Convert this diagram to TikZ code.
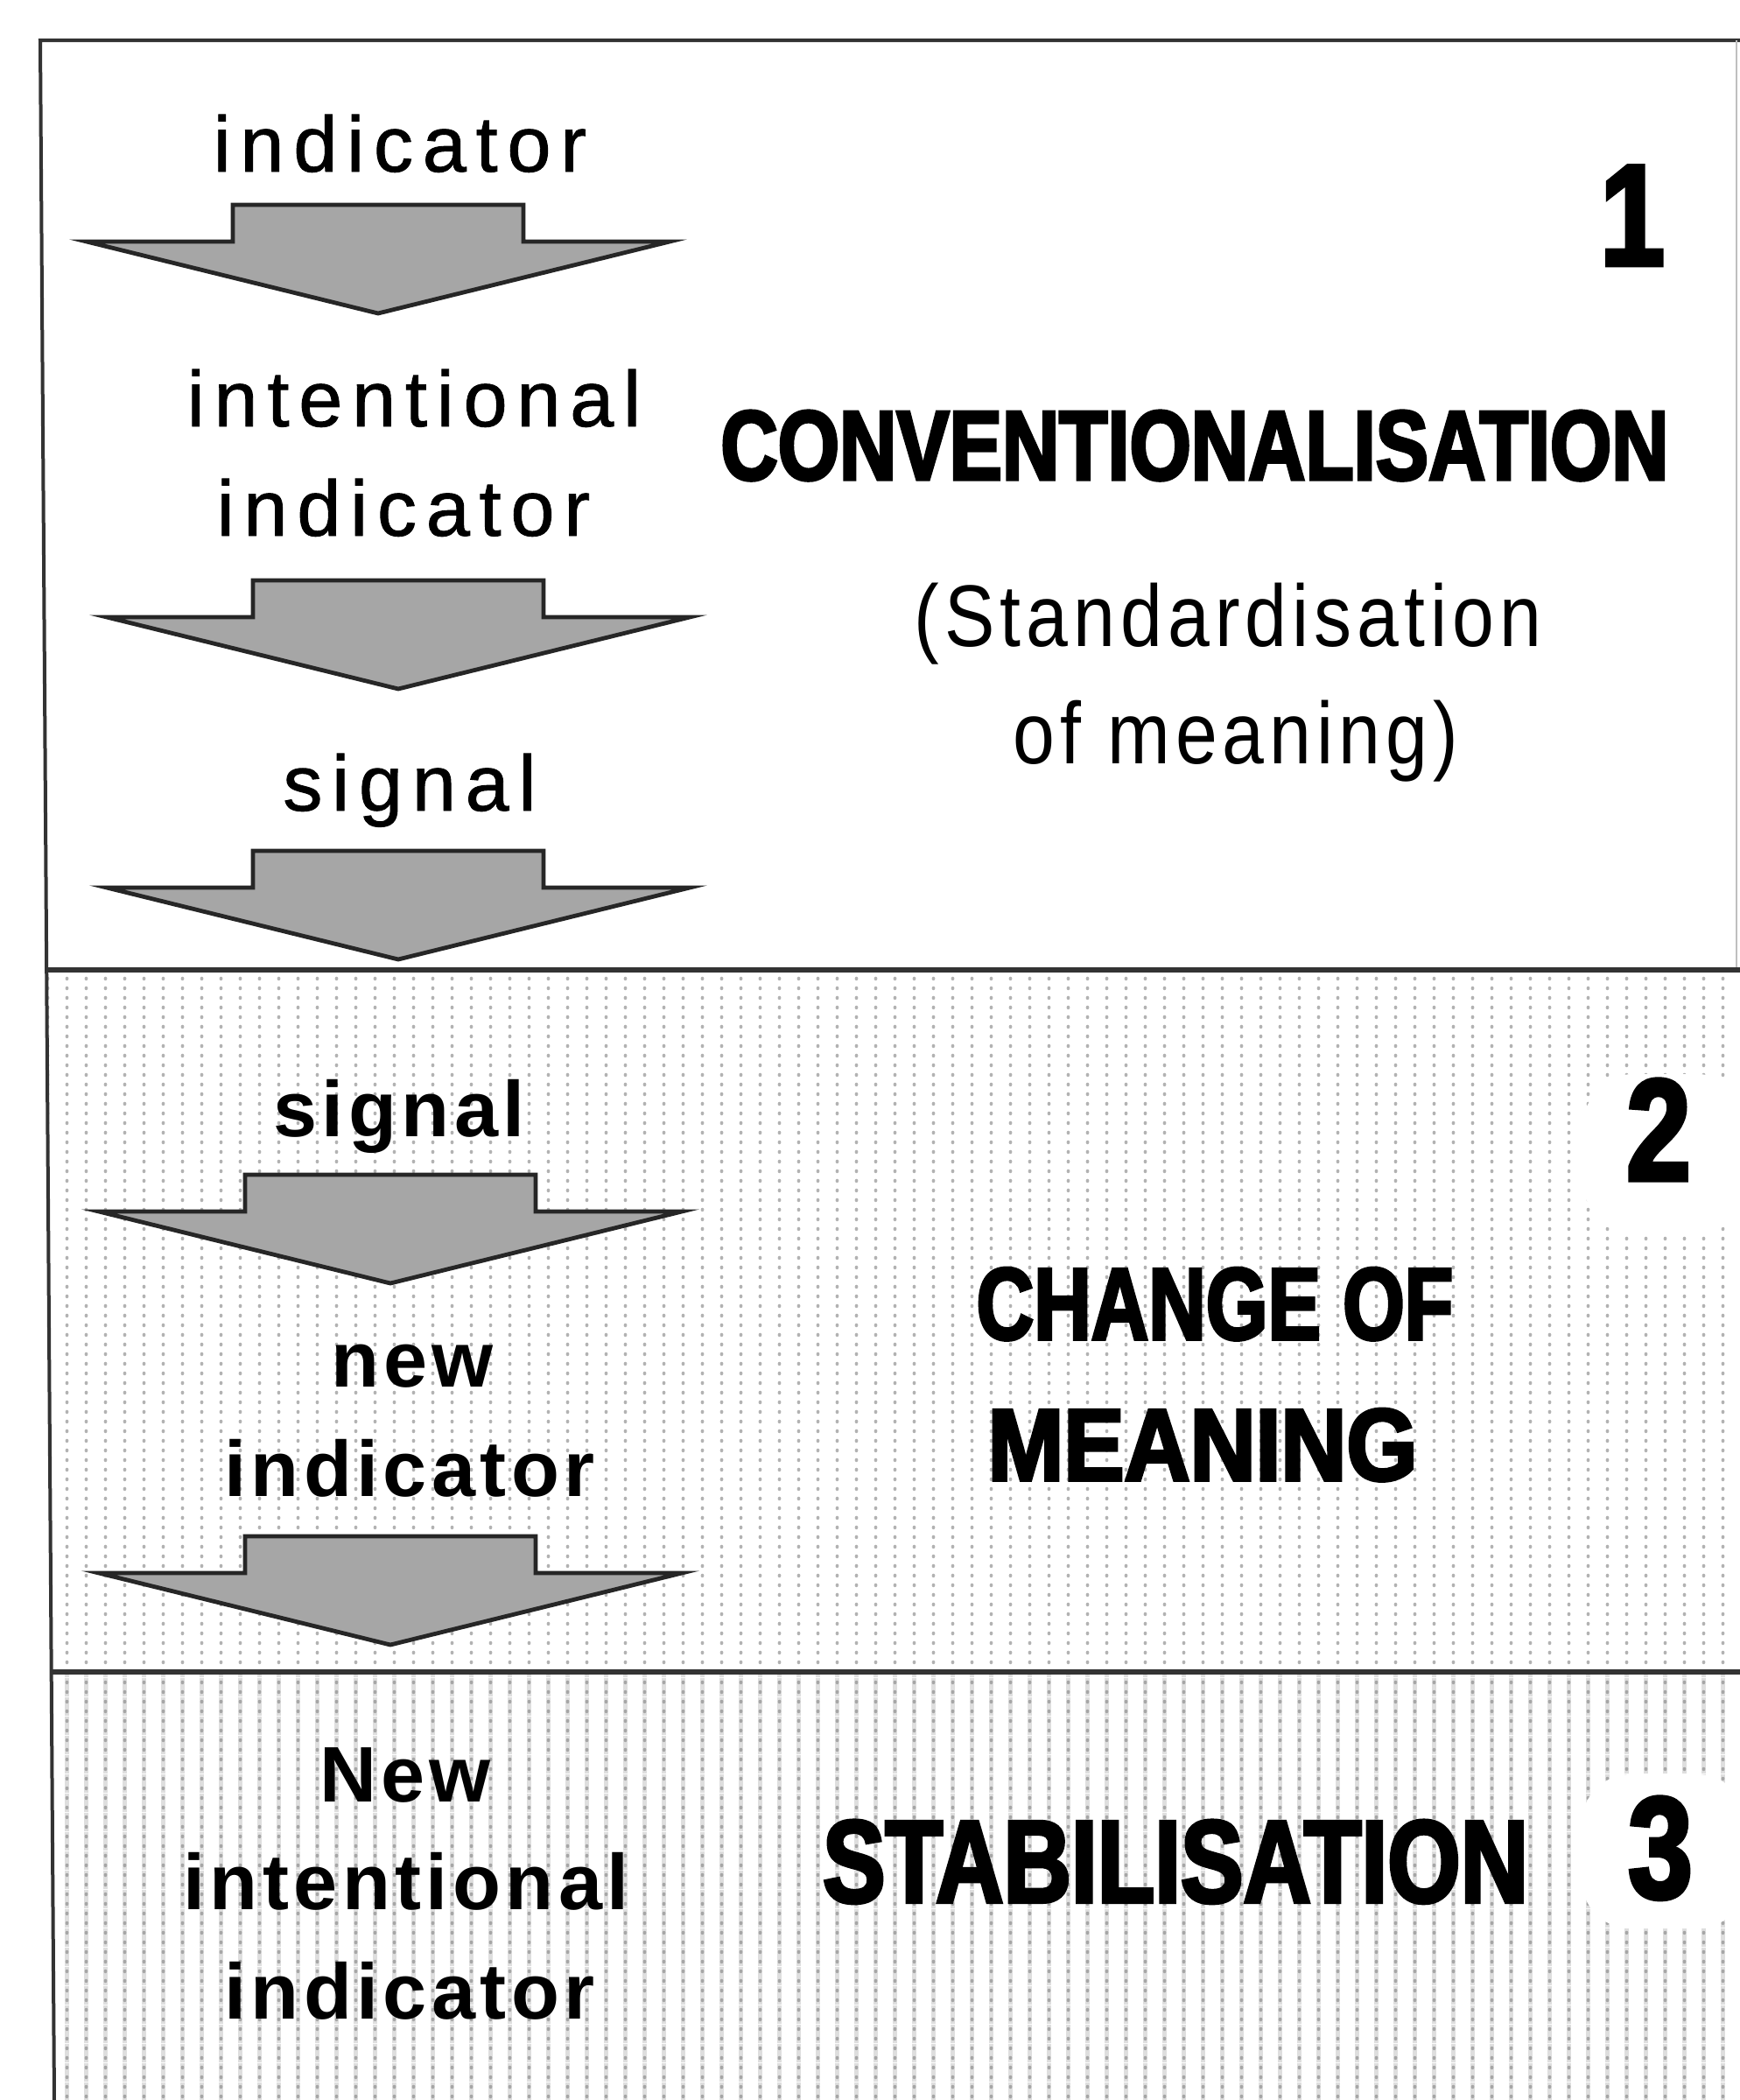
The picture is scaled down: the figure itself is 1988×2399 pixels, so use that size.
\documentclass[tikz,border=0pt]{standalone}
\usepackage{fontspec}
\setmainfont{Liberation Sans}
\newfontfamily\labelfont[LetterSpace=12,FakeBold=1]{Liberation Sans}
\newfontfamily\labelfontb[LetterSpace=6]{Liberation Sans Bold}
\newfontfamily\notefont[FakeStretch=0.86,LetterSpace=6]{Liberation Sans}
\newfontfamily\heavyfont[FakeStretch=0.80,FakeBold=3]{Liberation Sans}
\usetikzlibrary{patterns}

\pgfdeclarepatternformonly{sparsedots}{\pgfqpoint{0pt}{0pt}}{\pgfqpoint{5.5pt}{2.75pt}}{\pgfqpoint{5.5pt}{2.75pt}}{
  \pgfpathellipse{\pgfqpoint{2.75pt}{1.375pt}}{\pgfqpoint{0.5pt}{0pt}}{\pgfqpoint{0pt}{0.6pt}}
  \pgfusepath{fill}}
\pgfdeclarepatternformonly{vstripes}{\pgfqpoint{0pt}{0pt}}{\pgfqpoint{5.5pt}{5.5pt}}{\pgfqpoint{5.5pt}{5.5pt}}{
  \pgfpathrectangle{\pgfqpoint{2.125pt}{0pt}}{\pgfqpoint{1.25pt}{5.5pt}}
  \pgfusepath{fill}}

\tikzset{every picture/.style={line width=0.75pt}}

\begin{document}
\begin{tikzpicture}[x=0.25pt,y=0.25pt,yscale=-1,xscale=1,
  framerule/.style={draw=black!80,line width=1.5pt},
  arrowface/.style={fill=black!35,draw=black!85,line width=1.2pt,line join=miter},
  lbl/.style={anchor=base,inner sep=0pt,font=\labelfont\fontsize{22.5}{27}\selectfont},
  lblb/.style={anchor=base,inner sep=0pt,font=\labelfontb\fontsize{22.5}{27}\selectfont},
  note/.style={anchor=base,inner sep=0pt,font=\notefont\fontsize{25}{30}\selectfont},
  stage/.style={anchor=base,inner sep=0pt,font=\heavyfont\bfseries\fontsize{#1}{#1}\selectfont},
  numpatch/.style={fill=white,rounded corners=14pt},
  flowarrow/.pic={
    \draw[arrowface] (-166,0) -- (166,0) -- (166,-42) -- (333,-42) -- (0,-124) -- (-333,-42) -- (-166,-42) -- cycle;
  }]
\useasboundingbox (0,0) rectangle (1988,2399);

% section fills
\fill[pattern=sparsedots,pattern color=black!30] (53,1108) -- (1988,1108) -- (1988,1910) -- (59,1910) -- cycle;
\fill[pattern=vstripes,pattern color=black!13] (59,1910) -- (1988,1910) -- (1988,2399) -- (62,2399) -- cycle;
\fill[pattern=sparsedots,pattern color=black!35] (59,1910) -- (1988,1910) -- (1988,2399) -- (62,2399) -- cycle;

% frame and separators
\draw[framerule,line width=1pt] (1988,46) -- (46,46) -- (62,2399);
\draw[black!25,line width=0.5pt] (1984,46) -- (1984,1108);
\draw[framerule] (53,1108) -- (1988,1108);
\draw[framerule] (59,1910) -- (1988,1910);

% white patches behind the numbers
\fill[numpatch] (1810,1227) rectangle (1995,1410);
\fill[numpatch] (1807,2027) rectangle (1995,2203);

% left column, stage 1
\node[lbl] (ind1) at (457,196) {indicator};
\pic at (432,234) {flowarrow};
\node[lbl] (int1) at (473,487) {intentional};
\node[lbl] (ind2) at (461,612) {indicator};
\pic at (455,663) {flowarrow};
\node[lbl] (sig1) at (468,926) {signal};
\pic at (455,972) {flowarrow};

% left column, stage 2
\node[lblb] (sig2) at (456,1298) {signal};
\pic at (446,1342) {flowarrow};
\node[lblb] (new1) at (471,1584) {new};
\node[lblb] (ind3) at (468,1709) {indicator};
\pic at (446,1755) {flowarrow};

% left column, stage 3
\node[lblb] (new2) at (463,2058) {New};
\node[lblb] (int2) at (464,2181) {intentional};
\node[lblb] (ind4) at (468,2306) {indicator};

% right column
\node[stage=41.25] (num1) at (1865,303) {1};
\node[stage=28.25] (conv) at (1365,548) {CONVENTIONALISATION};
\node[note] (std1) at (1403,738) {(Standardisation};
\node[note] (std2) at (1412,872) {of meaning)};
\node[stage=41.25] (num2) at (1895,1348) {2};
\node[stage=29.25] (chg1) at (1388,1530) {\scalebox{0.97}[1]{CHANGE OF}};
\node[stage=29.25] (chg2) at (1374,1691) {\scalebox{1.11}[1]{MEANING}};
\node[stage=33.5] (stab) at (1343,2173) {STABILISATION};
\node[stage=41.25] (num3) at (1897,2168) {3};

\end{tikzpicture}
\end{document}
